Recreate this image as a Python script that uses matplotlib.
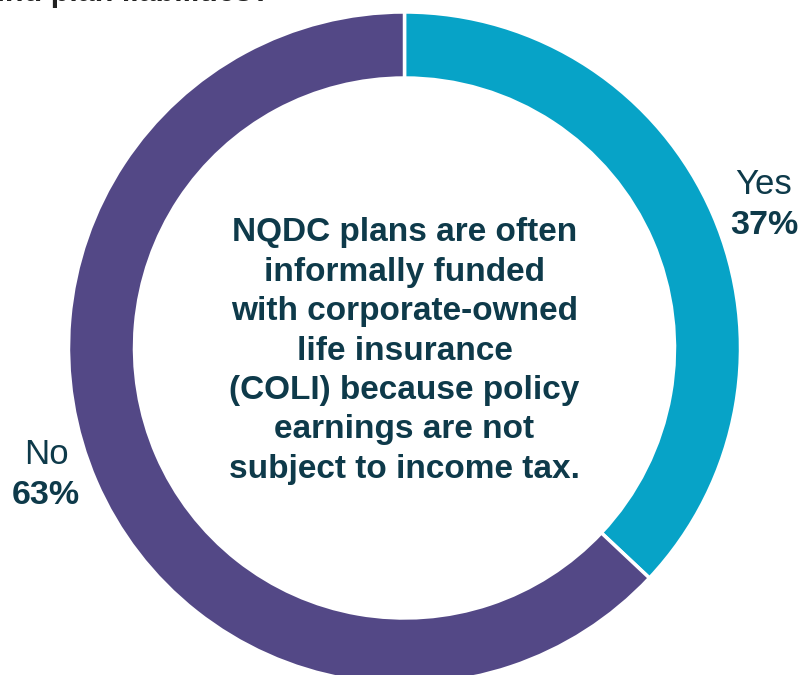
import matplotlib.pyplot as plt

plt.rcParams['font.family'] = ['Liberation Sans', 'DejaVu Sans']

labels = ["Yes", "No"]
shares = [37, 63]
colors = ["#07A3C7", "#534886"]
title = "Does your organization informally fund plan liabilities?"
center_note = ("NQDC plans are often\ninformally funded\nwith corporate-owned\n"
               "life insurance\n(COLI) because policy\nearnings are not\n"
               "subject to income tax.")
text_color = "#0E3A4A"

W, H = 799, 675
fig = plt.figure(figsize=(W / 100, H / 100), dpi=100)
ax = fig.add_axes([0, 0, 1, 1])
ax.set_xlim(0, W)
ax.set_ylim(0, H)
ax.set_aspect('equal')
ax.axis('off')

cx, cy, r = 404.5, H - 348, 336
ax.pie(shares, colors=colors, startangle=90, counterclock=False,
       center=(cx, cy), radius=r, frame=True,
       wedgeprops=dict(width=66, edgecolor='white', linewidth=2.5))
ax.set_xlim(0, W)
ax.set_ylim(0, H)
ax.axis('off')

# Question heading running off the top edge
ax.text(270, H - 1, title, ha='right', va='baseline', fontsize=22,
        fontweight='bold', color='#222222')

ax.text(cx, H - 351, center_note, ha='center', va='center', fontsize=24,
        fontweight='bold', color=text_color, linespacing=1.35)

# Slice labels
label_pos = {"Yes": (764, H - 185), "No": (46, H - 455)}
for lab, val in zip(labels, shares):
    x, y = label_pos[lab]
    ax.text(x, y, lab, ha='center', va='center', fontsize=25, color=text_color)
    ax.text(x, y - 40, f"{val}%", ha='center', va='center', fontsize=24.5,
            fontweight='bold', color=text_color)

fig.savefig("out.png", dpi=100)
